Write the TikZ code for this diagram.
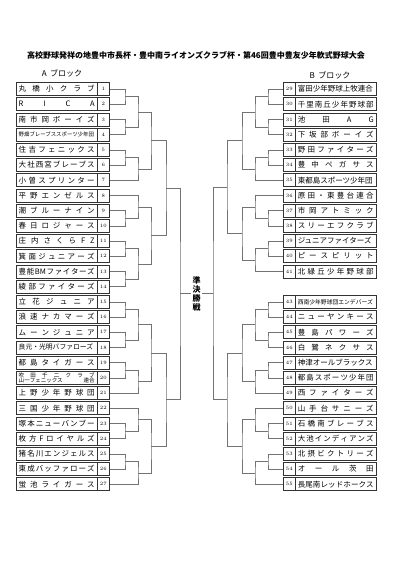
\documentclass[tikz,border=0pt]{standalone}
\usepackage{fontspec}
\newfontfamily\jp{Noto Sans CJK JP}
\usetikzlibrary{calc}

% one game of the bracket: joins #1 and #2 at x = #3, winner point (#4)
\newcommand{\bout}[4]{%
  \path let \p1=($(#1)!.5!(#2)$) in (#3pt,\y1) coordinate (#4);
  \draw[bracket] (#1) -| (#4) |- (#2);}
% team name spread over the box
\newcommand{\spr}[1]{\makebox[76pt][s]{\spaceskip=0pt plus 1fil\relax #1}}

\begin{document}
\begin{tikzpicture}[x=1pt, y=-1pt,
    team/.style={draw=black!80, line width=0.8pt, minimum width=80.5pt,
      minimum height=13pt, inner sep=0pt, font=\jp\fontsize{7.5}{8}\selectfont},
    num/.style={draw=black!80, line width=0.8pt, minimum width=12.5pt,
      minimum height=13pt, inner sep=0pt, font=\fontsize{5}{6}\selectfont},
    bracket/.style={draw=black!55, line width=0.6pt}]
    \useasboundingbox (0,0) rectangle (400,568);

    \node (title) [font=\jp\bfseries\fontsize{8}{9}\selectfont] at (196,55)
    {高校野球発祥の地豊中市長杯・豊中南ライオンズクラブ杯・第46回豊中豊友少年軟式野球大会};
    \node (blockA) [font=\jp\fontsize{8}{9}\selectfont] at (62,73) {A\ \ ブロック};
    \node (blockB) [font=\jp\fontsize{8}{9}\selectfont] at (330,75) {B\ \ ブロック};

    % A block
    \foreach \k/\nm in {1/{丸 橋 小 ク ラ ブ}, 2/{R I C A}, 3/{南 市 岡 ボ ー イ ズ},
        4/{\fontsize{5.4}{6}\selectfont 野畑ブレーブススポーツ少年団},
        5/{住 吉 フ ェ ニ ッ ク ス}, 6/{大 社 西 宮 ブ レ ー ブ ス},
        7/{小 曽 ス プ リ ン タ ー}, 8/{平 野 エ ン ゼ ル ス},
        9/{潮 ブ ル ー ナ イ ン}, 10/{春 日 ロ ジ ャ ー ス},
        11/{庄 内 さ く ら F Z}, 12/{箕 面 ジ ュ ニ ア ー ズ},
        13/{豊 能 BM フ ァ イ タ ー ズ}, 14/{綾 部 フ ァ イ タ ー ズ},
        15/{立 花 ジ ュ ニ ア}, 16/{浪 速 ナ カ マ ー ズ}, 17/{ム ー ン ジ ュ ニ ア},
        18/{\fontsize{6.8}{7}\selectfont 良元・光明バファローズ},
        19/{都 島 タ イ ガ ー ス}, 21/{上 野 少 年 野 球 団},
        22/{三 国 少 年 野 球 団}, 23/{塚 本 ニ ュ ー バ ン ブ ー},
        24/{枚 方 F ロ イ ヤ ル ズ}, 25/{猪 名 川 エ ン ジ ェ ル ス},
        26/{東 成 バ ッ フ ァ ロ ー ズ}, 27/{蛍 池 ラ イ ガ ー ス}} {
      \pgfmathsetmacro\yy{89+15.2*(\k-1)}
      \node (n\k) [team] at (56.75,\yy) {\spr{\nm}};
      \node (t\k) [num] at (103.25,\yy) {\k};
    }
    \node (n20) [team, align=center, font=\jp\fontsize{5.5}{5.8}\selectfont] at (56.75,377.8)
    {\spr{吹 田 千 二 ク ラ ブ}\\\spr{山一フェニックス 連合}};
    \node (t20) [num] at (103.25,377.8) {20};

    % B block
    \foreach \k/\nm in {29/{富田少年野球上牧連合}, 30/{千 里 南 丘 少 年 野 球 部},
        31/{池 田 A G}, 32/{下 坂 部 ボ ー イ ズ}, 33/{野 田 フ ァ イ タ ー ズ},
        34/{豊 中 ペ ガ サ ス}, 35/{東都島スポーツ少年団}, 36/{原 田 ・ 東 豊 台 連 合},
        37/{市 岡 ア ト ミ ッ ク}, 38/{ス リ ー エ フ ク ラ ブ}, 39/{ジュニアファイターズ},
        40/{ピ ー ス ピ リ ッ ト}, 41/{北 緑 丘 少 年 野 球 部},
        43/{\fontsize{5.8}{6}\selectfont 西南少年野球団エンデバーズ},
        44/{ニ ュ ー ヤ ン キ ー ス}, 45/{豊 島 パ ワ ー ズ}, 46/{白 鷺 ネ ク サ ス},
        47/{神津オールブラックス}, 48/{都 島 ス ポ ー ツ 少 年 団}, 49/{西 フ ァ イ タ ー ズ},
        50/{山 手 台 サ ニ ー ズ}, 51/{石 橋 南 ブ レ ー ブ ス}, 52/{大 池 イ ン デ ィ ア ン ズ},
        53/{北 摂 ビ ク ト リ ー ズ}, 54/{オ ー ル 茨 田}, 55/{長 尾 南 レ ッ ド ホ ー ク ス}} {
      \pgfmathsetmacro\yy{89+15.2*(\k-29)}
      \node (t\k) [num] at (289.25,\yy) {\k};
      \node (n\k) [team] at (335.75,\yy) {\spr{\nm}};
    }

    % A side games
    \bout{t1.east}{t2.east}{125}{a1}
    \bout{t3.east}{t4.east}{125}{a2}
    \bout{a1}{a2}{138}{a3}
    \bout{t5.east}{t6.east}{125}{a4}
    \bout{a4}{t7.east}{138}{a5}
    \bout{a3}{a5}{151}{a6}
    \bout{t9.east}{t10.east}{125}{b1}
    \bout{t8.east}{b1}{138}{b2}
    \bout{t11.east}{t12.east}{125}{b3}
    \bout{t13.east}{t14.east}{125}{b4}
    \bout{b3}{b4}{138}{b5}
    \bout{b2}{b5}{151}{b6}
    \bout{a6}{b6}{166}{ab}
    \bout{t15.east}{t16.east}{125}{c1}
    \bout{t17.east}{t18.east}{125}{c2}
    \bout{c1}{c2}{138}{c3}
    \bout{t19.east}{t20.east}{125}{c4}
    \bout{c4}{t21.east}{138}{c5}
    \bout{c3}{c5}{151}{c6}
    \bout{t23.east}{t24.east}{125}{d1}
    \bout{t22.east}{d1}{138}{d2}
    \bout{t25.east}{t26.east}{125}{d3}
    \bout{d3}{t27.east}{138}{d4}
    \bout{d2}{d4}{151}{d5}
    \bout{c6}{d5}{166}{cd}
    \bout{ab}{cd}{180}{winA}

    % B side games
    \bout{t29.west}{t30.west}{268}{e1}
    \bout{t31.west}{t32.west}{268}{e2}
    \bout{e1}{e2}{255}{e3}
    \bout{t33.west}{t34.west}{268}{e4}
    \bout{e4}{t35.west}{255}{e5}
    \bout{e3}{e5}{242}{e6}
    \bout{t37.west}{t38.west}{268}{f1}
    \bout{t36.west}{f1}{255}{f2}
    \bout{t39.west}{t40.west}{268}{f3}
    \bout{f3}{t41.west}{255}{f4}
    \bout{f2}{f4}{242}{f5}
    \bout{e6}{f5}{227}{ef}
    \bout{t43.west}{t44.west}{268}{g1}
    \bout{t45.west}{t46.west}{268}{g2}
    \bout{g1}{g2}{255}{g3}
    \bout{t47.west}{t48.west}{268}{g4}
    \bout{g4}{t49.west}{255}{g5}
    \bout{g3}{g5}{242}{g6}
    \bout{t51.west}{t52.west}{268}{h1}
    \bout{t50.west}{h1}{255}{h2}
    \bout{t53.west}{t54.west}{268}{h3}
    \bout{h3}{t55.west}{255}{h4}
    \bout{h2}{h4}{242}{h5}
    \bout{g6}{h5}{227}{gh}
    \bout{ef}{gh}{213}{winB}

    \node (semi) [font=\jp\bfseries\fontsize{8}{9}\selectfont, align=center, inner sep=1.5pt]
    at (196.5,294) {準\\決\\勝\\戦};
    \draw[bracket] (winA) -- (winA -| semi.west);
    \draw[bracket] (winB) -- (winB -| semi.east);
\end{tikzpicture}
\end{document}
